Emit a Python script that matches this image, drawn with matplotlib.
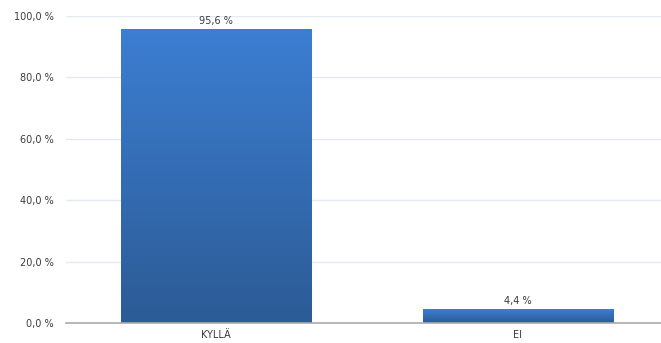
import matplotlib.pyplot as plt
import numpy as np
from matplotlib.colors import LinearSegmentedColormap

categories = ["KYLLÄ", "EI"]
values = [95.6, 4.4]
yticks = [0, 20, 40, 60, 80, 100]

fig = plt.figure(figsize=(6.61, 3.43), dpi=100)
ax = fig.add_axes([0.0998, 0.0583, 0.9002, 0.8950])

x = np.arange(len(categories))
bar_w = 0.63
cmap = LinearSegmentedColormap.from_list("bar", ["#2c5b96", "#3c7ed2"])
grad = np.linspace(0, 1, 256).reshape(-1, 1)

bars = ax.bar(x, values, width=bar_w, color="none", zorder=3)
for b in bars:
    x0, y0 = b.get_x(), b.get_y()
    ax.imshow(grad, cmap=cmap, aspect="auto", origin="lower",
              extent=[x0, x0 + b.get_width(), y0, y0 + b.get_height()], zorder=3)
    ax.text(b.get_x() + b.get_width() / 2, b.get_height() + 1.2,
            f"{b.get_height():.1f} %".replace(".", ","),
            ha="center", va="bottom", fontsize=7, color="#3a3a3a")

ax.set_xlim(-0.497, 1.474)
ax.set_ylim(0, 100)
ax.set_yticks(yticks)
ax.set_yticklabels([f"{v:.1f} %".replace(".", ",") for v in yticks])
ax.set_xticks(x)
ax.set_xticklabels(categories)
ax.tick_params(length=0, labelsize=7, colors="#3a3a3a")
ax.tick_params(axis="y", pad=9)
ax.tick_params(axis="x", pad=5)
ax.grid(axis="y", color="#e4eaf3", linewidth=1, zorder=0)
for s in ["top", "right", "left"]:
    ax.spines[s].set_visible(False)
ax.spines["bottom"].set_color("#aaaaaa")
ax.spines["bottom"].set_linewidth(1.2)
ax.spines["bottom"].set_zorder(4)

fig.savefig("out.png", dpi=100)
